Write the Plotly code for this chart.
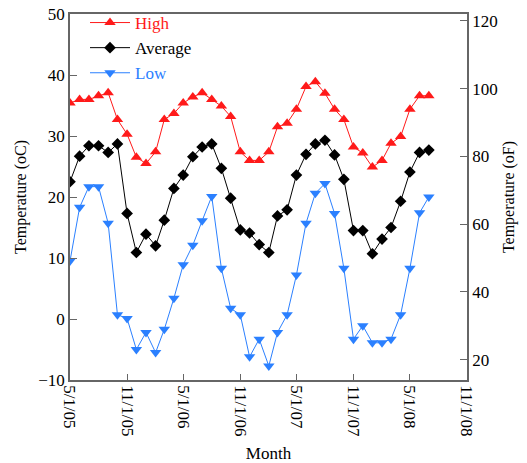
import plotly.graph_objects as go
import pandas as pd

# Monthly temperatures, May 2005 - July 2008 (degrees C)
months = pd.date_range("2005-05-01", "2008-07-01", freq="MS")

high_c = [35.4, 36.0, 36.0, 36.6, 37.1, 32.7, 30.3, 26.5, 25.5, 27.4, 32.7, 33.7,
          35.4, 36.4, 37.1, 36.0, 34.9, 33.2, 27.4, 26.0, 26.0, 27.4, 31.5, 32.1,
          34.4, 38.1, 38.9, 37.0, 34.4, 32.7, 28.2, 27.2, 24.9, 26.0, 28.8, 29.9,
          34.4, 36.6, 36.6]
avg_c = [22.5, 26.7, 28.4, 28.4, 27.3, 28.7, 17.3, 10.9, 13.9, 12.0, 16.2, 21.4,
         23.6, 26.6, 28.2, 28.7, 24.7, 19.8, 14.6, 14.1, 12.2, 10.9, 16.9, 17.9,
         23.6, 27.0, 28.7, 29.3, 26.9, 22.9, 14.5, 14.5, 10.7, 13.1, 15.0, 19.3,
         24.1, 27.3, 27.7]
low_c = [9.5, 18.3, 21.7, 21.7, 15.7, 0.7, 0.1, -5.0, -2.2, -5.5, -1.7, 3.4,
         8.9, 12.1, 16.1, 20.1, 8.3, 1.75, 0.7, -6.2, -3.3, -7.7, -2.2, 0.7,
         7.2, 15.7, 20.6, 22.2, 17.3, 8.3, -3.3, -1.1, -3.9, -3.9, -3.3, 0.7,
         8.3, 17.4, 20.0]

tick_dates = ["2005-05-01", "2005-11-01", "2006-05-01", "2006-11-01",
              "2007-05-01", "2007-11-01", "2008-05-01", "2008-11-01"]
tick_labels = ["5/1/05", "11/1/05", "5/1/06", "11/1/06",
               "5/1/07", "11/1/07", "5/1/08", "11/1/08"]

c_ticks = [-10, 0, 10, 20, 30, 40, 50]
f_ticks = [20, 40, 60, 80, 100, 120]

RED = "#ff1a1a"
BLACK = "#000000"
BLUE = "#2b80ff"
FONT = "Liberation Serif"
AXIS = "#666666"

W, H = 527, 463
# plot frame in pixels: left, right, top, bottom
PL, PR, PT, PB = 70, 467, 14, 380

fig = go.Figure()
fig.add_trace(go.Scatter(
    x=months, y=high_c, mode="lines+markers",
    name=f"<span style='color:{RED}'>High</span>",
    line=dict(color=RED, width=1),
    marker=dict(symbol="triangle-up", size=10, color=RED)))
fig.add_trace(go.Scatter(
    x=months, y=avg_c, mode="lines+markers",
    name="Average",
    line=dict(color=BLACK, width=1),
    marker=dict(symbol="diamond", size=9, color=BLACK)))
fig.add_trace(go.Scatter(
    x=months, y=low_c, mode="lines+markers",
    name=f"<span style='color:{BLUE}'>Low</span>",
    line=dict(color=BLUE, width=1),
    marker=dict(symbol="triangle-down", size=10, color=BLUE)))
# Fahrenheit companion trace, kept invisible, so the right axis is drawn
fig.add_trace(go.Scatter(
    x=months, y=[c * 1.8 + 32 for c in avg_c], yaxis="y2",
    mode="lines", line=dict(width=0, color="rgba(0,0,0,0)"),
    showlegend=False, hoverinfo="skip"))

fig.update_layout(
    width=W, height=H,
    margin=dict(l=0, r=0, t=0, b=0),
    paper_bgcolor="white", plot_bgcolor="white",
    font=dict(family=FONT, size=17, color="black"),
    showlegend=True,
    legend=dict(x=85 / W, y=1 - 5 / H, xanchor="left", yanchor="top",
                bgcolor="rgba(0,0,0,0)", font=dict(family=FONT, size=17),
                tracegroupgap=0, itemwidth=40),
    xaxis=dict(
        domain=[PL / W, PR / W], automargin=False,
        type="date", range=[tick_dates[0], tick_dates[-1]],
        tickvals=tick_dates, ticktext=tick_labels, tickangle=90,
        ticks="inside", ticklen=6, tickcolor=AXIS, tickwidth=1,
        showline=True, linecolor=AXIS, linewidth=1.5, mirror=True,
        showgrid=False, zeroline=False,
        tickfont=dict(family=FONT, size=17),
        title=dict(text="Month", font=dict(family=FONT, size=17), standoff=13)),
    yaxis=dict(
        domain=[1 - PB / H, 1 - PT / H], automargin=False,
        range=[-10, 50], tickvals=c_ticks,
        ticks="inside", ticklen=7, tickcolor=AXIS, tickwidth=1,
        showline=True, linecolor=AXIS, linewidth=1.5,
        showgrid=False, zeroline=False,
        tickfont=dict(family=FONT, size=17),
        title=dict(text="Temperature (oC)", font=dict(family=FONT, size=16), standoff=8)),
    yaxis2=dict(
        overlaying="y", side="right", range=[14, 122], tickvals=f_ticks,
        automargin=False,
        ticks="inside", ticklen=7, tickcolor=AXIS, tickwidth=1,
        showline=True, linecolor=AXIS, linewidth=1.5,
        showgrid=False, zeroline=False,
        tickfont=dict(family=FONT, size=17),
        title=dict(text="Temperature (oF)", font=dict(family=FONT, size=16), standoff=6)),
)

fig.write_html("out.html")
